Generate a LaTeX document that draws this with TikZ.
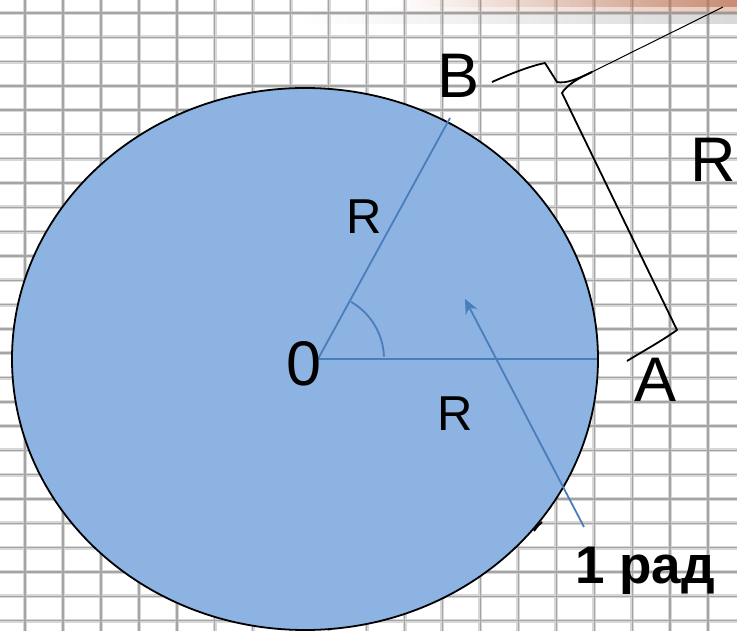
\documentclass[tikz,border=0pt]{standalone}
\usepackage{fontspec}
\setmainfont{Liberation Sans}
\usetikzlibrary{arrows.meta,fadings}
\tikzfading[name=fadeleft, left color=transparent!100, right color=transparent!0]
\definecolor{discfill}{RGB}{141,179,226}
\definecolor{radline}{RGB}{74,126,187}
\definecolor{gridc}{RGB}{165,165,165}
\definecolor{gridsoft}{RGB}{215,215,215}
\definecolor{bandc}{RGB}{190,120,90}
\begin{document}
\begin{tikzpicture}[x=1pt,y=-1pt,
  gridsoftline/.style={gridsoft, line width=4pt},
  gridline/.style={gridc, line width=1.4pt},
  radiusline/.style={radline, line width=1.8pt},
  blackline/.style={black, line width=1.8pt, line join=round},
  biglbl/.style={inner sep=0pt, anchor=base, font=\fontsize{63}{63}\selectfont},
  midlbl/.style={inner sep=0pt, anchor=base, font=\fontsize{49}{49}\selectfont},
  boldlbl/.style={inner sep=0pt, anchor=base, font=\bfseries\fontsize{53}{53}\selectfont}]
\useasboundingbox (0,0) rectangle (737,631);
\fill[white] (0,0) rectangle (737,631);
% grid
\foreach \k in {0,...,18} \draw[gridsoftline] ({25+37.95*\k},0) -- ({25+37.95*\k},631);
\foreach \k in {0,...,25} \draw[gridsoftline] (0,{13+24.3*\k}) -- (737,{13+24.3*\k});
\foreach \k in {0,...,18} \draw[gridline] ({25+37.95*\k},0) -- ({25+37.95*\k},631);
\foreach \k in {0,...,25} \draw[gridline] (0,{13+24.3*\k}) -- (737,{13+24.3*\k});
% blurred band at top right
\fill[bandc, opacity=0.85, path fading=fadeleft] (400,0) rectangle (737,7);
\fill[bandc, opacity=0.4, path fading=fadeleft] (380,7) rectangle (737,13);
\fill[gray, opacity=0.3, path fading=fadeleft] (300,13) rectangle (737,24);
% disc
\filldraw[fill=discfill, draw=black, line width=1.8pt] (305,359) ellipse [x radius=293pt, y radius=271pt];
% points
\coordinate (O) at (318,359);
\coordinate (A) at (597,359);
\coordinate (B) at (450,118);
\coordinate (arrS) at (584,527);
\coordinate (arrE) at (465,299);
\coordinate (arrIn) at (469.6,307.9);
\draw[radiusline] (O) -- (A);
\draw[radiusline] (O) -- (B);
\draw[radiusline] plot[domain=2:60, smooth, samples=30] ({318+66*cos(\x)}, {359-66*sin(\x)});
\draw[radiusline] (arrS) -- (arrIn);
\fill[radline] (arrE) -- (477.3,308.9) -- (arrIn) -- (465.7,315.0) -- cycle;
% brace
\coordinate (bS) at (492,82);
\coordinate (bTip) at (592,72);
\coordinate (bE) at (627,361);
\coordinate (lead) at (723,7);
\draw[blackline] (bS) .. controls (510,74) and (530,66) .. (545,63) -- (557,82) .. controls (565,84) and (578,79) .. (bTip);
\draw[blackline] (bTip) .. controls (578,78) and (566,86) .. (562,93) -- (677,330) .. controls (660,342) and (645,350) .. (bE);
\draw[black, line width=1pt] (bTip) -- (lead);
% tiny mark
\draw[black, line width=2pt] (534,531) .. controls (537,526) and (540,524) .. (542,522);
% labels
\node[biglbl] (lO) at (304,385) {0};
\node[biglbl] (lB) at (459,98) {B};
\node[biglbl] (lA) at (656,401) {A};
\node[biglbl] (lR) at (713,182) {R};
\node[midlbl] (lR1) at (364,234) {R};
\node[midlbl] (lR2) at (455,430) {R};
\node[boldlbl] (lrad) at (645,583) {1 рад};
\end{tikzpicture}
\end{document}
